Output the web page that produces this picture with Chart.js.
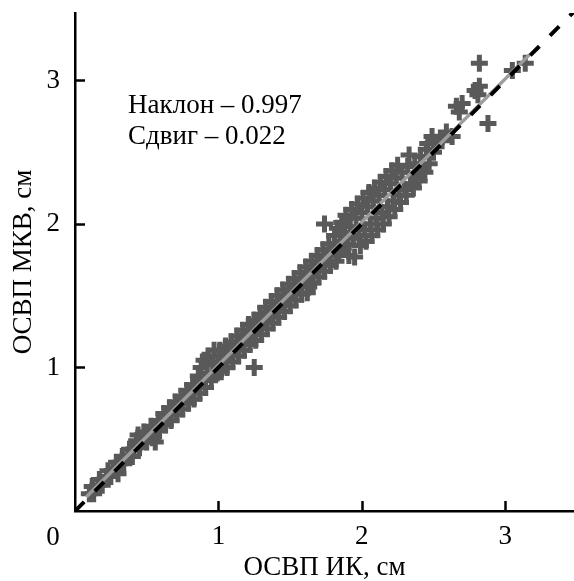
<!DOCTYPE html>
<html>
<head>
<meta charset="utf-8">
<script src="https://cdn.jsdelivr.net/npm/chart.js@4.4.0/dist/chart.umd.min.js"></script>
<style>
  body { margin: 0; background: #fff; }
  #wrap { width: 574px; height: 581px; }
</style>
</head>
<body>
<div id="wrap"><canvas id="myChart"></canvas></div>
<script>
var points = [
  [0.10,0.12],[0.12,0.17],[0.13,0.12],[0.16,0.18],[0.17,0.22],[0.19,0.18],[0.22,0.24],[0.23,0.28],
  [0.25,0.24],[0.28,0.30],[0.29,0.34],[0.30,0.26],[0.31,0.33],[0.33,0.38],[0.34,0.33],[0.37,0.39],
  [0.38,0.43],[0.40,0.38],[0.41,0.43],
  [0.43,0.49],[0.44,0.53],[0.45,0.44],[0.47,0.50],[0.48,0.55],[0.50,0.48],[0.51,0.54],[0.53,0.59],
  [0.54,0.51],[0.56,0.48],[0.56,0.58],[0.58,0.63],[0.59,0.56],[0.61,0.63],[0.62,0.68],[0.63,0.60],
  [0.65,0.67],[0.66,0.72],[0.67,0.63],[0.69,0.71],[0.70,0.76],[0.71,0.67],[0.73,0.75],[0.74,0.80],
  [0.75,0.71],[0.77,0.79],[0.78,0.84],[0.79,0.75],[0.81,0.83],[0.82,0.88],[0.83,0.78],[0.85,0.87],
  [0.86,0.94],[0.87,0.82],[0.88,1.00],[0.89,0.91],[0.90,1.05],[0.91,0.86],[0.92,0.96],[0.93,1.08],
  [0.95,0.92],[0.96,1.02],[0.97,1.12],[0.98,0.95],[1.00,1.04],
  [1.01,1.12],[1.02,0.97],[1.04,1.07],[1.05,1.15],[1.06,1.00],[1.08,1.10],[1.09,1.18],[1.10,1.04],
  [1.12,1.14],[1.13,1.22],[1.14,1.08],[1.16,1.18],[1.17,1.26],[1.18,1.12],[1.20,1.22],[1.21,1.30],
  [1.22,1.16],[1.24,1.26],[1.25,1.33],[1.25,1.00],[1.26,1.19],[1.28,1.30],[1.29,1.37],[1.30,1.23],
  [1.32,1.34],[1.33,1.42],[1.34,1.27],[1.36,1.38],[1.37,1.46],[1.38,1.31],[1.40,1.42],[1.41,1.50],
  [1.42,1.35],[1.44,1.46],[1.45,1.54],[1.46,1.39],[1.48,1.50],[1.49,1.58],[1.50,1.43],[1.52,1.54],
  [1.53,1.62],[1.54,1.47],[1.56,1.58],[1.57,1.66],[1.58,1.51],[1.60,1.62],[1.61,1.70],[1.62,1.52],
  [1.63,1.56],[1.64,1.66],[1.65,1.74],[1.66,1.59],[1.68,1.70],[1.69,1.78],[1.70,1.63],[1.72,1.74],
  [1.73,1.82],[1.74,2.00],[1.74,1.67],[1.76,1.78],[1.77,1.86],[1.78,1.71],[1.80,1.82],
  [1.81,1.92],[1.82,1.74],[1.83,1.97],[1.84,1.80],[1.85,1.88],[1.86,2.01],[1.87,1.83],[1.88,1.94],
  [1.89,2.06],[1.90,1.86],[1.91,1.78],[1.92,1.98],[1.93,2.10],[1.94,1.90],[1.95,1.77],[1.96,2.04],
  [1.97,2.14],[1.98,1.92],[1.99,1.85],[2.00,2.08],[2.01,2.18],[2.02,1.96],[2.03,1.88],[2.04,2.12],
  [2.05,2.22],[2.06,2.00],[2.07,1.92],[2.08,2.16],[2.09,2.25],[2.10,2.04],[2.11,1.96],[2.12,2.20],
  [2.13,2.29],[2.14,2.08],[2.15,2.00],[2.16,2.24],[2.17,2.33],[2.18,2.12],[2.19,2.05],[2.20,2.28],
  [2.21,2.37],[2.22,2.16],[2.23,2.10],[2.24,2.32],[2.25,2.41],[2.26,2.20],[2.27,2.15],[2.28,2.36],
  [2.30,2.24],[2.31,2.20],[2.32,2.40],[2.33,2.48],[2.34,2.28],[2.36,2.25],[2.37,2.42],[2.38,2.33],
  [2.40,2.30],[2.41,2.47],[2.42,2.38],[2.44,2.36],[2.45,2.52],
  [2.46,2.56],[2.47,2.42],[2.49,2.61],[2.50,2.50],[2.52,2.57],[2.56,2.58],[2.59,2.64],[2.63,2.61],
  [2.66,2.82],[2.68,2.78],[2.70,2.84],[2.79,2.93],[2.81,2.90],[2.82,2.96],[2.82,3.12],[2.88,2.70],
  [3.05,3.07],[3.14,3.12]
];

// regression line (grey) and 1:1 line (dashed)
var fitX = [0.08, 3.17];
var fitY = [0.10, 3.18];
var diagX = [0, 3.48];
var diagY = [0, 3.48];

var xTicks = [1, 2, 3];
var yTicks = [1, 2, 3];
var xMax = 3.48;
var yMax = 3.47;

var noteLines = ['Наклон – 0.997', 'Сдвиг – 0.022'];
var xTitle = 'ОСВП ИК, см';
var yTitle = 'ОСВП МКВ, см';

var FONT = 'Liberation Serif';
var FSIZE = 27;

function toXY(xs, ys) {
    var out = [];
    for (var i = 0; i < xs.length; i++) out.push({x: xs[i], y: ys[i]});
    return out;
}

// inward tick marks, the shared "0" at the origin and the fit note
var extras = {
    id: 'extras',
    afterDraw: function(chart) {
        var ctx = chart.ctx;
        var xs = chart.scales.x, ys = chart.scales.y;
        var area = chart.chartArea;
        ctx.save();
        ctx.strokeStyle = '#000';
        ctx.lineWidth = 2.5;
        xTicks.forEach(function(v) {
            var px = Math.round(xs.getPixelForValue(v)) + 0.5;
            ctx.beginPath();
            ctx.moveTo(px, area.bottom);
            ctx.lineTo(px, area.bottom - 10);
            ctx.stroke();
        });
        yTicks.forEach(function(v) {
            var py = Math.round(ys.getPixelForValue(v)) + 0.5;
            ctx.beginPath();
            ctx.moveTo(area.left, py);
            ctx.lineTo(area.left + 10, py);
            ctx.stroke();
        });

        ctx.fillStyle = '#000';
        ctx.font = FSIZE + 'px "' + FONT + '"';
        ctx.textAlign = 'center';
        ctx.textBaseline = 'middle';
        ctx.fillText('0', xs.getPixelForValue(0) - 22, area.bottom + 27);

        ctx.textAlign = 'left';
        ctx.textBaseline = 'alphabetic';
        ctx.fillText(noteLines[0], xs.getPixelForValue(0.37), ys.getPixelForValue(2.77));
        ctx.fillText(noteLines[1], xs.getPixelForValue(0.37), ys.getPixelForValue(2.56));
        ctx.restore();
    }
};

function drawGraph() {
    var ctx = document.getElementById('myChart');
    new Chart(ctx, {
        type: 'scatter',
        data: {
            datasets: [{
                data: points.map(function(p) { return {x: p[0], y: p[1]}; }),
                pointStyle: 'cross',
                pointRadius: 8.5,
                pointBorderWidth: 5,
                borderColor: '#595959',
                backgroundColor: '#595959',
                order: 3
            }, {
                type: 'line',
                data: toXY(fitX, fitY),
                borderColor: '#9c9c9c',
                borderWidth: 3.5,
                pointRadius: 0,
                order: 2
            }, {
                type: 'line',
                data: toXY(diagX, diagY),
                borderColor: '#000',
                borderWidth: 4,
                borderDash: [13, 15],
                pointRadius: 0,
                order: 1
            }]
        },
        options: {
            responsive: true,
            maintainAspectRatio: false,
            animation: false,
            layout: { autoPadding: false, padding: { top: 13, right: 0, left: 0, bottom: 0 } },
            plugins: { legend: { display: false }, tooltip: { enabled: false } },
            scales: {
                x: {
                    type: 'linear',
                    min: 0,
                    max: xMax,
                    afterBuildTicks: function(s) { s.ticks = xTicks.map(function(v) { return {value: v}; }); },
                    afterFit: function(s) { s.height = 70; s.paddingLeft = 0; s.paddingRight = 0; },
                    grid: { drawOnChartArea: false, drawTicks: false },
                    border: { display: true, color: '#000', width: 2.5 },
                    ticks: { color: '#000', font: { family: FONT, size: FSIZE }, padding: 10, maxRotation: 0 },
                    title: { display: true, text: xTitle, color: '#000', font: { family: FONT, size: FSIZE, lineHeight: 1 }, padding: { top: 0, bottom: 0 } }
                },
                y: {
                    type: 'linear',
                    min: 0,
                    max: yMax,
                    afterBuildTicks: function(s) { s.ticks = yTicks.map(function(v) { return {value: v}; }); },
                    afterFit: function(s) { s.width = 75; s.paddingTop = 0; s.paddingBottom = 0; },
                    grid: { drawOnChartArea: false, drawTicks: false },
                    border: { display: true, color: '#000', width: 2.5 },
                    ticks: { color: '#000', font: { family: FONT, size: FSIZE }, padding: 15 },
                    title: { display: true, text: yTitle, color: '#000', font: { family: FONT, size: FSIZE, lineHeight: 1 }, padding: { top: 10, bottom: 0 } }
                }
            }
        },
        plugins: [extras]
    });
}

drawGraph();
</script>
</body>
</html>
